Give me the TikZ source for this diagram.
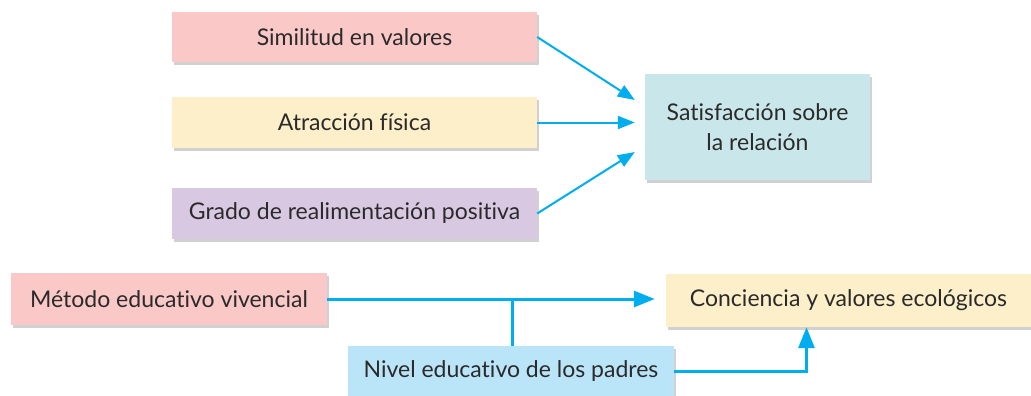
\documentclass[tikz,border=0pt]{standalone}
\usepackage{fontspec}
\setmainfont{Lato}[Ligatures=NoCommon]
\usetikzlibrary{arrows.meta,shadows,calc}

\definecolor{rosa}{HTML}{FAC8C7}
\definecolor{crema}{HTML}{FDEFC9}
\definecolor{lila}{HTML}{D8C8E2}
\definecolor{turq}{HTML}{C9E7EA}
\definecolor{celeste}{HTML}{BAE4F8}
\definecolor{flecha}{HTML}{00AEEF}
\definecolor{texto}{HTML}{2B2A2A}

\tikzset{
  caja/.style={draw=none, text=texto, font=\fontsize{23}{30}\selectfont, align=center, inner sep=0pt,
    drop shadow={shadow xshift=2pt, shadow yshift=-3pt, fill=black, opacity=0.18}},
  flech/.style={draw=flecha, line width=2pt, -{Triangle[length=17pt,width=13pt]}},
  linea/.style={draw=flecha, line width=3pt},
  flechg/.style={linea, -{Triangle[length=21pt,width=16pt]}}
}

\begin{document}
\begin{tikzpicture}[x=1pt, y=-1pt]
      \useasboundingbox (0,0) rectangle (1031,396);

      % primer esquema
      \node[caja, fill=rosa, minimum width=365pt, minimum height=50pt] (sim) at (354.5,37) {Similitud en valores};
      \node[caja, fill=crema, minimum width=365pt, minimum height=51pt] (atr) at (354.5,122.5) {Atracción física};
      \node[caja, fill=lila, minimum width=365pt, minimum height=51pt] (gra) at (354.5,213.5) {Grado de realimentación positiva};
      \node[caja, fill=turq, minimum width=225pt, minimum height=106pt] (sat) at (757.5,127) {Satisfacción sobre\\la relación};

      \draw[flech] (sim.east) -- ($(sat.west)+(-10,-27)$);
      \draw[flech] (atr.east) -- ([xshift=-10pt]sat.west |- atr.east);
      \draw[flech] (gra.east) -- ($(sat.west)+(-10,25)$);

      % segundo esquema
      \node[caja, fill=rosa, minimum width=316pt, minimum height=52pt] (met) at (169,299) {Método educativo vivencial};
      \node[caja, fill=celeste, minimum width=326pt, minimum height=50pt] (niv) at (511,371) {Nivel educativo de los padres};
      \node[caja, fill=crema, minimum width=365pt, minimum height=53pt] (con) at (848.5,300.5) {Conciencia y valores ecológicos};

      \coordinate (j) at (512,299);
      \coordinate (c) at ($(con.south)+(-42,0)$);

      \draw[flechg] (met.east) -- ($(con.west |- met.east)+(-11,0)$);
      \draw[linea] (j) -- (j |- niv.north);
      \draw[flechg] (niv.east) -| (c);
\end{tikzpicture}
\end{document}
